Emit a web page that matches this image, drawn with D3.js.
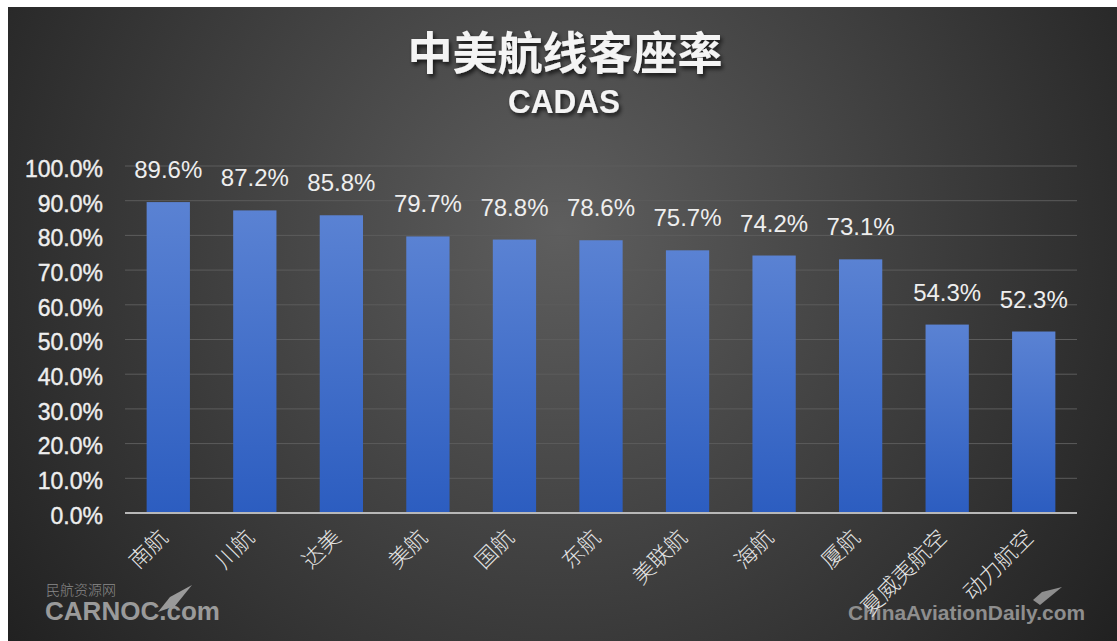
<!DOCTYPE html>
<html>
<head>
<meta charset="utf-8">
<script src="https://cdn.jsdelivr.net/npm/d3@7"></script>
<style>
  html, body { margin: 0; padding: 0; background: #fff; }
  svg { display: block; }
</style>
</head>
<body>
<div id="chart"></div>
<script>
/**
 * DATA
 * */
const airlines = ["南航", "川航", "达美", "美航", "国航", "东航", "美联航", "海航", "厦航", "夏威夷航空", "动力航空"];
const loadFactor = [89.6, 87.2, 85.8, 79.7, 78.8, 78.6, 75.7, 74.2, 73.1, 54.3, 52.3];
const yTicks = [0, 10, 20, 30, 40, 50, 60, 70, 80, 90, 100];

const width = 1117,
  height = 641,
  margin = { top: 166, bottom: 128, left: 125, right: 40 };

const svg = d3.select("#chart")
  .append("svg")
  .attr("width", width)
  .attr("height", height);

const defs = svg.append("defs");

// dark spotlight background
const bg = defs.append("radialGradient")
  .attr("id", "bg")
  .attr("gradientUnits", "userSpaceOnUse")
  .attr("cx", 560).attr("cy", 230).attr("r", 700);
bg.append("stop").attr("offset", "0%").attr("stop-color", "#5e5e5e");
bg.append("stop").attr("offset", "55%").attr("stop-color", "#3c3c3c");
bg.append("stop").attr("offset", "100%").attr("stop-color", "#202020");

const barGrad = defs.append("linearGradient")
  .attr("id", "bar")
  .attr("x1", 0).attr("y1", 0).attr("x2", 0).attr("y2", 1);
barGrad.append("stop").attr("offset", "0%").attr("stop-color", "#5a82d3");
barGrad.append("stop").attr("offset", "100%").attr("stop-color", "#2c5dc0");

const shadow = defs.append("filter").attr("id", "shadow")
  .attr("x", "-10%").attr("y", "-20%").attr("width", "120%").attr("height", "150%");
shadow.append("feDropShadow")
  .attr("dx", 2).attr("dy", 3).attr("stdDeviation", 2)
  .attr("flood-color", "#000").attr("flood-opacity", 0.7);

svg.append("rect")
  .attr("x", 8).attr("y", 7)
  .attr("width", width - 8).attr("height", height - 7)
  .attr("fill", "url(#bg)");

// titles
svg.append("text")
  .attr("x", 565).attr("y", 70)
  .attr("text-anchor", "middle")
  .attr("font-family", "Noto Sans CJK SC")
  .attr("font-weight", "bold")
  .attr("font-size", 45)
  .attr("fill", "#f4f4f4")
  .attr("filter", "url(#shadow)")
  .text("中美航线客座率");

svg.append("text")
  .attr("x", 564).attr("y", 113)
  .attr("text-anchor", "middle")
  .attr("font-family", "Liberation Sans, Arial")
  .attr("font-weight", "bold")
  .attr("font-size", 33)
  .attr("textLength", 112)
  .attr("lengthAdjust", "spacingAndGlyphs")
  .attr("fill", "#f4f4f4")
  .attr("filter", "url(#shadow)")
  .text("CADAS");

/**
 * SCALES
 * */
const x = d3.scaleBand()
  .domain(airlines)
  .range([margin.left, width - margin.right])
  .paddingInner(0.5)
  .paddingOuter(0.25);

const y = d3.scaleLinear()
  .domain([0, 100])
  .range([height - margin.bottom, margin.top]);

// gridlines
svg.append("g")
  .selectAll("line")
  .data(yTicks.filter(d => d > 0))
  .join("line")
  .attr("x1", margin.left).attr("x2", width - margin.right)
  .attr("y1", d => y(d)).attr("y2", d => y(d))
  .attr("stroke", "#5c5c5c")
  .attr("stroke-width", 1);

// y axis labels
const yAxis = d3.axisLeft(y)
  .tickValues(yTicks)
  .tickFormat(d => d.toFixed(1) + "%")
  .tickSize(0)
  .tickPadding(0);

svg.append("g")
  .attr("transform", `translate(${103},3)`)
  .call(yAxis)
  .call(g => g.select(".domain").remove())
  .call(g => g.selectAll("text")
    .attr("font-family", "Liberation Sans, Arial")
    .attr("font-size", 23)
    .attr("fill", "#eeeeee")
    .attr("stroke", "#eeeeee")
    .attr("stroke-width", 0.4));

// bars
svg.append("g")
  .selectAll("rect")
  .data(loadFactor)
  .join("rect")
  .attr("x", (d, i) => x(airlines[i]))
  .attr("y", d => y(d))
  .attr("width", x.bandwidth())
  .attr("height", d => y(0) - y(d))
  .attr("fill", "url(#bar)");

// value labels
svg.append("g")
  .selectAll("text")
  .data(loadFactor)
  .join("text")
  .attr("x", (d, i) => x(airlines[i]) + x.bandwidth() / 2)
  .attr("y", d => y(d) - 24)
  .attr("text-anchor", "middle")
  .attr("font-family", "Liberation Sans, Arial")
  .attr("font-size", 24)
  .attr("fill", "#eeeeee")
  .text(d => d.toFixed(1) + "%");

// baseline
svg.append("line")
  .attr("x1", margin.left).attr("x2", width - margin.right)
  .attr("y1", y(0)).attr("y2", y(0))
  .attr("stroke", "#b8b8b8")
  .attr("stroke-width", 2);

// watermarks
svg.append("text")
  .attr("x", 46).attr("y", 595)
  .attr("font-family", "Noto Sans CJK SC")
  .attr("font-weight", 300)
  .attr("font-size", 14)
  .attr("fill", "#8a8a8a")
  .text("民航资源网");

svg.append("text")
  .attr("x", 45).attr("y", 620)
  .attr("font-family", "Liberation Sans, Arial")
  .attr("font-weight", "bold")
  .attr("font-size", 25)
  .attr("textLength", 175)
  .attr("lengthAdjust", "spacingAndGlyphs")
  .attr("fill", "#9a9a9a")
  .text("CARNOC.com");

svg.append("path")
  .attr("d", "M158,612 L170,597 L192,585 L175,606 Z")
  .attr("fill", "#9a9a9a");

svg.append("text")
  .attr("x", 1085).attr("y", 620)
  .attr("text-anchor", "end")
  .attr("font-family", "Liberation Sans, Arial")
  .attr("font-weight", "bold")
  .attr("font-size", 21)
  .attr("textLength", 237)
  .attr("lengthAdjust", "spacingAndGlyphs")
  .attr("fill", "#8e8e8e")
  .text("ChinaAviationDaily.com");

svg.append("path")
  .attr("d", "M1033,600 L1042,592 L1062,587 L1040,605 Z")
  .attr("fill", "#8e8e8e");

// x labels, rotated
svg.append("g")
  .selectAll("text")
  .data(airlines)
  .join("text")
  .attr("transform", d => `translate(${x(d) + x.bandwidth() / 2 + 1},${y(0) + 26}) rotate(-45)`)
  .attr("text-anchor", "end")
  .attr("font-family", "Noto Sans CJK SC")
  .attr("font-weight", 300)
  .attr("font-size", 22)
  .attr("fill", "#e6e6e6")
  .text(d => d);
</script>
</body>
</html>
